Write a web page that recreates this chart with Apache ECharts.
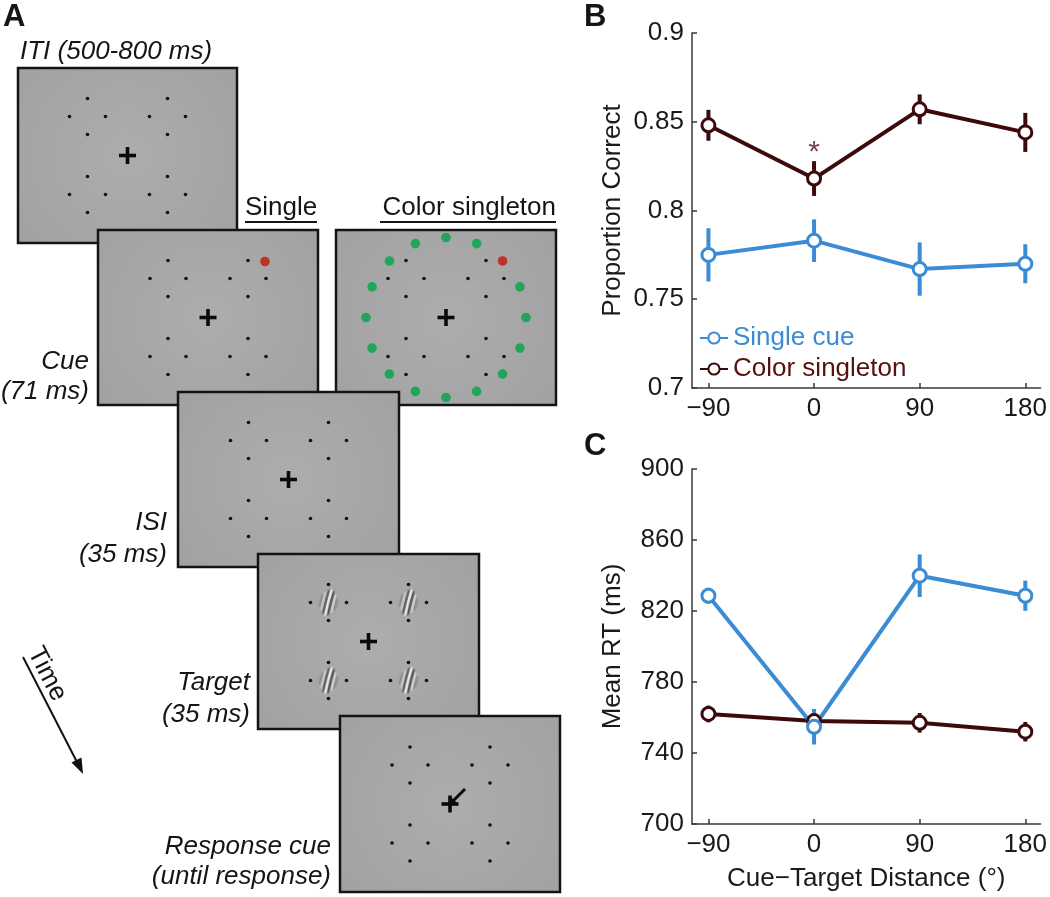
<!DOCTYPE html>
<html><head><meta charset="utf-8">
<script src="https://cdn.jsdelivr.net/npm/echarts@6/dist/echarts.min.js"></script>
<style>html,body{margin:0;padding:0;background:#fff}#c{width:1050px;height:897px}</style>
</head><body><div id="c"></div>
<script>
// ---------- data ----------
const distances = [-90, 0, 90, 180];
const xTickValues = [-90, 0, 90, 180];
const accSingle = [0.775, 0.783, 0.767, 0.770];
const accSingleErr = [0.015, 0.012, 0.015, 0.011];
const accColor = [0.848, 0.818, 0.857, 0.844];
const accColorErr = [0.0087, 0.0098, 0.0084, 0.011];
const rtSingle = [828.6, 754.8, 839.9, 828.6];
const rtSingleErr = [4.5, 10, 12, 8.5];
const rtColor = [762, 758, 757, 752];
const rtColorErr = [4.7, 4, 5.5, 5.5];
const sigIndex = [1]; // significant point (color singleton, accuracy)
const seriesNames = ['Single cue', 'Color singleton'];

const BLUE = '#3b8bd5';
const BROWN = '#3c0a0a';
const BROWN_TXT = '#561212';
const FONT = '"Liberation Sans", Arial, sans-serif';

const pairs = (vals) => distances.map((d, i) => [d, vals[i]]);
const errs = (vals, e) => distances.map((d, i) => [d, vals[i] - e[i], vals[i] + e[i]]);

function errSeries(name, color, xi, yi, data) {
  return {
    type: 'custom', name: name, xAxisIndex: xi, yAxisIndex: yi, z: 1,
    encode: { x: 0, y: [1, 2] }, data: data, silent: true,
    renderItem: function (params, api) {
      const x = api.value(0), lo = api.value(1), hi = api.value(2);
      const p1 = api.coord([x, lo]), p2 = api.coord([x, hi]);
      return { type: 'line', shape: { x1: p1[0], y1: p1[1], x2: p2[0], y2: p2[1] },
               style: { stroke: color, lineWidth: 4 } };
    }
  };
}
function lineSeries(name, color, xi, yi, data) {
  return {
    type: 'line', name: name, xAxisIndex: xi, yAxisIndex: yi, z: 3,
    data: data, symbol: 'circle', symbolSize: 13, showSymbol: true,
    lineStyle: { color: color, width: 4 },
    itemStyle: { color: '#ffffff', borderColor: color, borderWidth: 3 },
    emphasis: { disabled: true }, animation: false
  };
}

// ---------- panel A (schematic) ----------
const G = [];
const boxFill = { type: 'radial', x: 0.5, y: 0.5, r: 0.75,
  colorStops: [{ offset: 0, color: '#adadad' }, { offset: 1, color: '#a2a2a2' }] };
const clusterOffsets = [[-40, -39], [40, -39], [-40, 39], [40, 39]];
const dotOffsets = [[0, -18], [-18, 0], [18, 0], [0, 18]];

function addBox(x, y, w, h, opts) {
  const cx = x + w / 2, cy = y + h / 2;
  const children = [];
  children.push({ type: 'rect', shape: { x: x, y: y, width: w, height: h },
    style: { fill: boxFill, stroke: '#141414', lineWidth: 2.5 } });
  clusterOffsets.forEach(function (c) {
    dotOffsets.forEach(function (d) {
      children.push({ type: 'circle', shape: { cx: cx + c[0] + d[0], cy: cy + c[1] + d[1], r: 1.8 },
        style: { fill: '#111' } });
    });
    if (opts.gabor) {
      const stripes = [[-7.5, '#3a3a3a', 7, 0.18], [-5, '#f4f4f4', 10, 0.45], [-2.5, '#2c2c2c', 13, 0.6],
                       [0, '#ffffff', 14, 0.85], [2.5, '#2c2c2c', 13, 0.6],
                       [5, '#f4f4f4', 10, 0.45], [7.5, '#3a3a3a', 7, 0.18]];
      const gch = stripes.map(function (s) {
        return { type: 'ellipse', shape: { cx: s[0], cy: 0, rx: 1.3, ry: s[2] },
          style: { fill: s[1], opacity: s[3], shadowBlur: 3, shadowColor: s[1] } };
      });
      children.push({ type: 'group', x: cx + c[0], y: cy + c[1], rotation: -0.25, children: gch });
    }
  });
  // fixation cross
  children.push({ type: 'rect', shape: { x: cx - 8.5, y: cy - 1.8, width: 17, height: 3.6 }, style: { fill: '#0a0a0a' } });
  children.push({ type: 'rect', shape: { x: cx - 1.8, y: cy - 8.5, width: 3.6, height: 17 }, style: { fill: '#0a0a0a' } });
  if (opts.ring) {
    for (let k = 0; k < 16; k++) {
      const a = k * Math.PI / 8;
      const isRed = (k === 2);
      children.push({ type: 'circle', shape: { cx: cx + 80 * Math.cos(a), cy: cy - 80 * Math.sin(a), r: 4.8 },
        style: { fill: isRed ? '#c2302a' : '#1fa65a' } });
    }
  }
  if (opts.single) {
    children.push({ type: 'circle', shape: { cx: cx + 57, cy: cy - 56, r: 4.8 }, style: { fill: '#c2302a' } });
  }
  if (opts.arrow) {
    children.push({ type: 'line', shape: { x1: cx + 3, y1: cy - 3, x2: cx + 15, y2: cy - 15 },
      style: { stroke: '#0a0a0a', lineWidth: 3 } });
    children.push({ type: 'polygon', shape: { points: [[cx - 2, cy + 2], [cx + 7, cy - 1], [cx + 1, cy - 7]] },
      style: { fill: '#0a0a0a' } });
  }
  G.push({ type: 'group', children: children });
}
addBox(18, 68, 219, 175, {});
addBox(98, 230, 220, 175, { single: true });
addBox(336, 230, 220, 175, { ring: true });
addBox(178, 392, 221, 175, {});
addBox(258, 554, 221, 175, { gabor: true });
addBox(340, 716, 220, 176, { arrow: true });

function txt(t, x, y, align, font, extra) {
  const e = { type: 'text', x: x, y: y, style: { text: t, align: align, verticalAlign: 'middle',
    font: font, fill: '#151515' } };
  if (extra) Object.assign(e, extra);
  G.push(e);
}
const IT = 'italic 26px ' + FONT;
const NT = '26px ' + FONT;
txt('ITI (500-800 ms)', 20, 52, 'left', IT);
txt('Single', 245, 208, 'left', NT);
txt('Color singleton', 556, 208, 'right', NT);
G.push({ type: 'line', shape: { x1: 245, y1: 222, x2: 317, y2: 222 }, style: { stroke: '#151515', lineWidth: 2 } });
G.push({ type: 'line', shape: { x1: 380, y1: 222, x2: 556, y2: 222 }, style: { stroke: '#151515', lineWidth: 2 } });
txt('Cue', 89, 362, 'right', IT);
txt('(71 ms)', 89, 392, 'right', IT);
txt('ISI', 167, 523, 'right', IT);
txt('(35 ms)', 167, 555, 'right', IT);
txt('Target', 250, 683, 'right', IT);
txt('(35 ms)', 250, 715, 'right', IT);
txt('Response cue', 331, 847, 'right', IT);
txt('(until response)', 331, 877, 'right', IT);
// Time arrow
G.push({ type: 'line', shape: { x1: 23, y1: 657, x2: 78, y2: 764 }, style: { stroke: '#111', lineWidth: 2 } });
G.push({ type: 'polygon', shape: { points: [[83, 774], [81.5, 757.5], [71.5, 762.5]] }, style: { fill: '#111' } });
txt('Time', 47, 674, 'center', NT, { rotation: -1.096 });
// panel letters
txt('A', 3, 17, 'left', 'bold 31px ' + FONT);
txt('B', 584, 17, 'left', 'bold 31px ' + FONT);
txt('C', 584, 446, 'left', 'bold 31px ' + FONT);

// ---------- axes ----------
const axisCommon = {
  axisLine: { show: true, onZero: false, lineStyle: { color: '#3a3a3a', width: 1.5 } },
  axisTick: { show: true, inside: true, length: 5, lineStyle: { color: '#3a3a3a', width: 1.5 } },
  splitLine: { show: false },
  axisLabel: { fontSize: 26, color: '#1a1a1a', fontFamily: FONT, margin: 8 }
};
function xAxis(gi, name) {
  return Object.assign({}, axisCommon, {
    type: 'value', gridIndex: gi, min: -104, max: 193,
    axisTick: Object.assign({}, axisCommon.axisTick, { customValues: xTickValues }),
    axisLabel: Object.assign({}, axisCommon.axisLabel, { customValues: xTickValues, margin: 8,
      formatter: function (v) { return v < 0 ? '\u2212' + (-v) : String(v); } }),
    name: name || '', nameLocation: 'middle', nameGap: 42,
    nameTextStyle: { fontSize: 26, color: '#1a1a1a', fontFamily: FONT }
  });
}
function yAxis(gi, min, max, interval, name, fmt) {
  return Object.assign({}, axisCommon, {
    type: 'value', gridIndex: gi, min: min, max: max, interval: interval,
    axisLabel: Object.assign({}, axisCommon.axisLabel, { formatter: fmt }),
    name: name, nameLocation: 'middle', nameGap: 66,
    nameTextStyle: { fontSize: 26, color: '#1a1a1a', fontFamily: FONT }
  });
}

const option = {
  backgroundColor: '#ffffff',
  animation: false,
  grid: [
    { left: 692, top: 33, width: 353, height: 355 },
    { left: 692, top: 469, width: 353, height: 355 }
  ],
  xAxis: [xAxis(0, ''), xAxis(1, 'Cue\u2212Target Distance (\u00b0)')],
  yAxis: [
    yAxis(0, 0.7, 0.9, 0.05, 'Proportion Correct', function (v) { return String(+v.toFixed(2)); }),
    yAxis(1, 700, 900, 40, 'Mean RT (ms)', function (v) { return String(Math.round(v)); })
  ],
  legend: {
    left: 699, top: 325, orient: 'vertical', itemWidth: 28, itemHeight: 14, itemGap: 5, padding: 0,
    textStyle: { fontSize: 26, fontFamily: FONT },
    data: [{ name: seriesNames[0], textStyle: { color: BLUE } },
           { name: seriesNames[1], textStyle: { color: BROWN_TXT } }],
    selectedMode: false
  },
  series: [
    errSeries('errAccColor', BROWN, 0, 0, errs(accColor, accColorErr)),
    lineSeries(seriesNames[1], BROWN, 0, 0, pairs(accColor)),
    errSeries('errAccSingle', BLUE, 0, 0, errs(accSingle, accSingleErr)),
    lineSeries(seriesNames[0], BLUE, 0, 0, pairs(accSingle)),
    errSeries('errRtColor', BROWN, 1, 1, errs(rtColor, rtColorErr)),
    lineSeries(seriesNames[1], BROWN, 1, 1, pairs(rtColor)),
    errSeries('errRtSingle', BLUE, 1, 1, errs(rtSingle, rtSingleErr)),
    lineSeries(seriesNames[0], BLUE, 1, 1, pairs(rtSingle)),
    {
      type: 'scatter', name: 'sig', xAxisIndex: 0, yAxisIndex: 0, symbolSize: 1,
      itemStyle: { color: 'rgba(0,0,0,0)' }, silent: true, z: 4,
      data: sigIndex.map(function (i) { return [distances[i], accColor[i] + accColorErr[i]]; }),
      label: { show: true, position: 'top', distance: -7, formatter: '*', fontSize: 30,
               color: BROWN_TXT, fontFamily: FONT }
    }
  ],
  graphic: { elements: G }
};
const chart = echarts.init(document.getElementById('c'), null, { renderer: 'canvas' });
chart.setOption(option);
</script></body></html>
